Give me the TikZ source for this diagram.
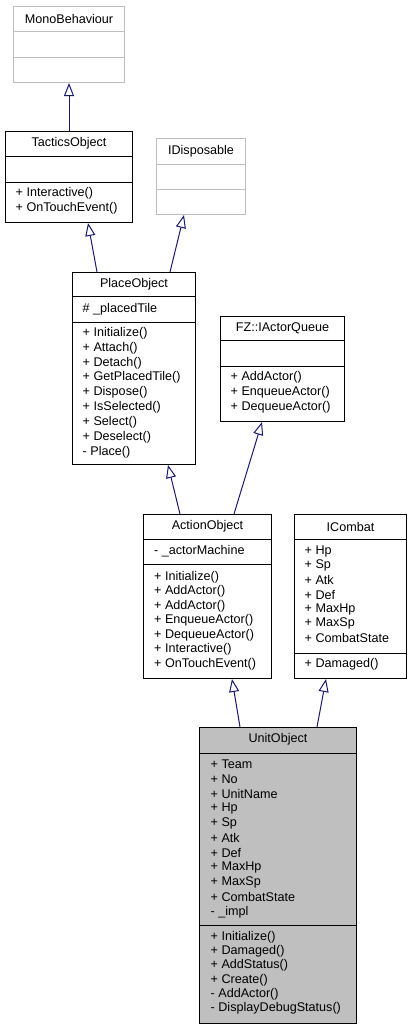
\documentclass[tikz,border=0pt]{standalone}
\usepackage{fontspec}
\setmainfont{Liberation Sans}
\usetikzlibrary{arrows.meta,calc}
\definecolor{edgeblue}{HTML}{191970}
\definecolor{lightborder}{HTML}{BFBFBF}
\definecolor{unitfill}{HTML}{BFBFBF}
\newcommand\umlmembers[5]{%
  \foreach \t [count=\i from 0] in {#5} {\node[txt] (#1\i) at (#2,{#3+\i*#4}) {\t};}}
\begin{document}
\begin{tikzpicture}[x=1pt,y=-1pt,
  cls/.style={draw=black, line width=1pt, fill=white, inner sep=0pt, anchor=north west},
  greycls/.style={cls, draw=lightborder},
  unitcls/.style={cls, fill=unitfill},
  sep/.style={line width=1pt, draw=black},
  greysep/.style={line width=1pt, draw=lightborder},
  txt/.style={anchor=west, inner sep=0pt, font=\fontsize{12.6}{14.6}\selectfont},
  ttl/.style={anchor=center, inner sep=0pt, font=\fontsize{12.6}{14.6}\selectfont},
  inh/.style={draw=edgeblue, line width=1pt, -{Triangle[open, length=13pt, width=10pt, fill=white]}}
]
\useasboundingbox (0,0) rectangle (411,1029);

% MonoBehaviour
\node[greycls, minimum width=111pt, minimum height=76pt] (mono) at (13,6) {};
\draw[greysep] ([yshift=-25pt]mono.north west) -- ([yshift=-25pt]mono.north east);
\draw[greysep] ([yshift=-51pt]mono.north west) -- ([yshift=-51pt]mono.north east);
\node[ttl] (mono-t) at ($(mono.north)+(0,12.5)$) {MonoBehaviour};

% TacticsObject
\node[cls, minimum width=127pt, minimum height=91pt] (tactics) at (5,131) {};
\draw[sep] ([yshift=-25pt]tactics.north west) -- ([yshift=-25pt]tactics.north east);
\draw[sep] ([yshift=-51pt]tactics.north west) -- ([yshift=-51pt]tactics.north east);
\node[ttl] (tactics-t) at ($(tactics.north)+(0,12.5)$) {TacticsObject};
\umlmembers{tactics-m}{15.5}{193}{15.2}{+ Interactive(), + OnTouchEvent()}

% IDisposable
\node[greycls, minimum width=89pt, minimum height=76pt] (idisp) at (156,138) {};
\draw[greysep] ([yshift=-26pt]idisp.north west) -- ([yshift=-26pt]idisp.north east);
\draw[greysep] ([yshift=-51pt]idisp.north west) -- ([yshift=-51pt]idisp.north east);
\node[ttl] (idisp-t) at ($(idisp.north)+(0,13)$) {IDisposable};

% PlaceObject
\node[cls, minimum width=123pt, minimum height=192pt] (place) at (72,272) {};
\draw[sep] ([yshift=-24pt]place.north west) -- ([yshift=-24pt]place.north east);
\draw[sep] ([yshift=-50pt]place.north west) -- ([yshift=-50pt]place.north east);
\node[ttl] (place-t) at ($(place.north)+(0,12)$) {PlaceObject};
\node[txt] (place-a0) at (82.5,309) {\# \_placedTile};
\umlmembers{place-m}{82.5}{333}{14.875}{+ Initialize(), + Attach(), + Detach(), + GetPlacedTile(), + Dispose(), + IsSelected(), + Select(), + Deselect(), - Place()}

% FZ::IActorQueue
\node[cls, minimum width=124pt, minimum height=105pt] (actorq) at (220,316) {};
\draw[sep] ([yshift=-24pt]actorq.north west) -- ([yshift=-24pt]actorq.north east);
\draw[sep] ([yshift=-50pt]actorq.north west) -- ([yshift=-50pt]actorq.north east);
\node[ttl] (actorq-t) at ($(actorq.north)+(0,12)$) {FZ::IActorQueue};
\umlmembers{actorq-m}{230.5}{377}{15}{+ AddActor(), + EnqueueActor(), + DequeueActor()}

% ActionObject
\node[cls, minimum width=128pt, minimum height=164pt] (action) at (143,514) {};
\draw[sep] ([yshift=-25pt]action.north west) -- ([yshift=-25pt]action.north east);
\draw[sep] ([yshift=-50pt]action.north west) -- ([yshift=-50pt]action.north east);
\node[ttl] (action-t) at ($(action.north)+(0,12.5)$) {ActionObject};
\node[txt] (action-a0) at (154,551) {- \_actorMachine};
\umlmembers{action-m}{154}{577}{14.5}{+ Initialize(), + AddActor(), + AddActor(), + EnqueueActor(), + DequeueActor(), + Interactive(), + OnTouchEvent()}

% ICombat
\node[cls, minimum width=112pt, minimum height=164pt] (icombat) at (294,514) {};
\draw[sep] ([yshift=-25pt]icombat.north west) -- ([yshift=-25pt]icombat.north east);
\draw[sep] ([yshift=-139pt]icombat.north west) -- ([yshift=-139pt]icombat.north east);
\node[ttl] (icombat-t) at ($(icombat.north)+(0,12.5)$) {ICombat};
\umlmembers{icombat-a}{304.5}{551}{14.5}{+ Hp, + Sp, + Atk, + Def, + MaxHp, + MaxSp, + CombatState}
\node[txt] (icombat-m0) at (304.5,664) {+ Damaged()};

% UnitObject
\node[unitcls, minimum width=157pt, minimum height=296pt] (unit) at (199,727) {};
\draw[sep] ([yshift=-26pt]unit.north west) -- ([yshift=-26pt]unit.north east);
\draw[sep] ([yshift=-198pt]unit.north west) -- ([yshift=-198pt]unit.north east);
\node[ttl] (unit-t) at ($(unit.north)+(0,12.5)$) {UnitObject};
\umlmembers{unit-a}{210.5}{764}{14.8}{+ Team, + No, + UnitName, + Hp, + Sp, + Atk, + Def, + MaxHp, + MaxSp, + CombatState, - \_impl}
\umlmembers{unit-m}{210.5}{937}{14.25}{+ Initialize(), + Damaged(), + AddStatus(), + Create(), - AddActor(), - DisplayDebugStatus()}

% inheritance
\draw[inh] (tactics.north) -- (mono.south);
\draw[inh] ([xshift=25pt]place.north west) -- ([xshift=83pt]tactics.south west);
\draw[inh] ([xshift=98pt]place.north west) -- ([xshift=28pt]idisp.south west);
\draw[inh] ([xshift=37pt]action.north west) -- ([xshift=96pt]place.south west);
\draw[inh] ([xshift=91pt]action.north west) -- ([xshift=42pt]actorq.south west);
\draw[inh] ([xshift=41pt]unit.north west) -- ([xshift=89pt]action.south west);
\draw[inh] ([xshift=118pt]unit.north west) -- ([xshift=32pt]icombat.south west);
\end{tikzpicture}
\end{document}
